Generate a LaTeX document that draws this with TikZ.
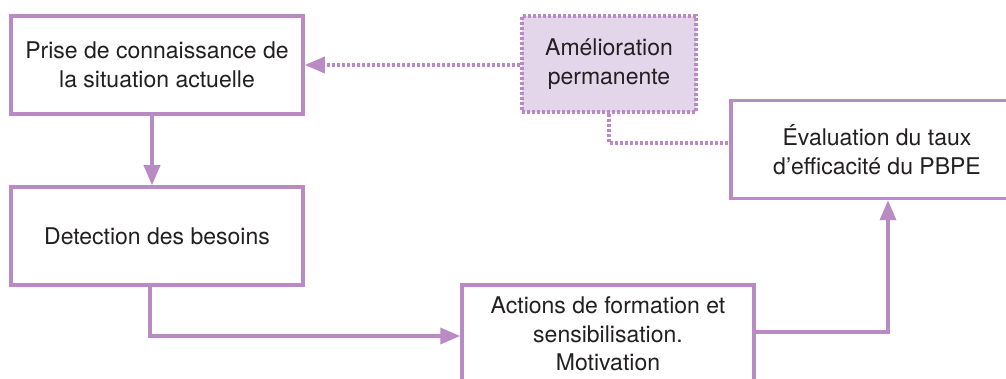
\documentclass[tikz,border=0pt]{standalone}
\usepackage{fontspec}
\setmainfont{TeX Gyre Heros}
\usetikzlibrary{arrows.meta}
\definecolor{lilac}{HTML}{B98AC4}
\definecolor{lilacfill}{HTML}{E4D6EA}
\definecolor{ink}{HTML}{231F20}
\tikzset{
  stepbox/.style={draw=lilac, line width=3.5pt, fill=white, minimum width=292pt, minimum height=98pt,
    align=center, text=ink, font=\fontsize{23}{28.5}\selectfont, inner sep=0pt},
  softbox/.style={draw=lilac, line width=3.5pt, fill=lilacfill, minimum width=174pt, minimum height=96pt,
    align=center, text=ink, font=\fontsize{23}{28.5}\selectfont, inner sep=0pt,
    dash pattern=on 3pt off 2pt},
  flow/.style={draw=lilac, line width=3.5pt, -{Triangle[length=20pt,width=16pt]}},
  link/.style={draw=lilac, line width=3.5pt, dash pattern=on 3pt off 2pt},
}
\begin{document}
\begin{tikzpicture}[x=1pt,y=-1pt]
  \useasboundingbox (0,0) rectangle (1006,379);
  \clip (0,0) rectangle (1006,379);
  \node[stepbox] (prise) at (157,65) {Prise de connaissance de\\la situation actuelle};
  \node[stepbox] (besoins) at (157,236) {Detection des besoins};
  \node[stepbox] (actions) at (608,334) {Actions de formation et\\sensibilisation.\\Motivation};
  \node[stepbox] (eval) at (877,149.5) {Évaluation du taux\\d’efficacité du PBPE};
  \node[softbox] (amelio) at (609,64) {Amélioration\\permanente};

  \draw[flow] (prise.south -| 152,0) -- (besoins.north -| 152,0);
  \draw[flow] (besoins.south -| 150,0) |- (actions.west |- 0,336);
  \draw[flow] (actions.east |- 0,332) -| (eval.south -| 888,0);
  \draw[link] (amelio.south) |- (eval.west |- 0,143);
  \draw[link, -{Triangle[length=20pt,width=16pt]}] (amelio.west |- 0,65) -- (prise.east |- 0,65);
\end{tikzpicture}
\end{document}
